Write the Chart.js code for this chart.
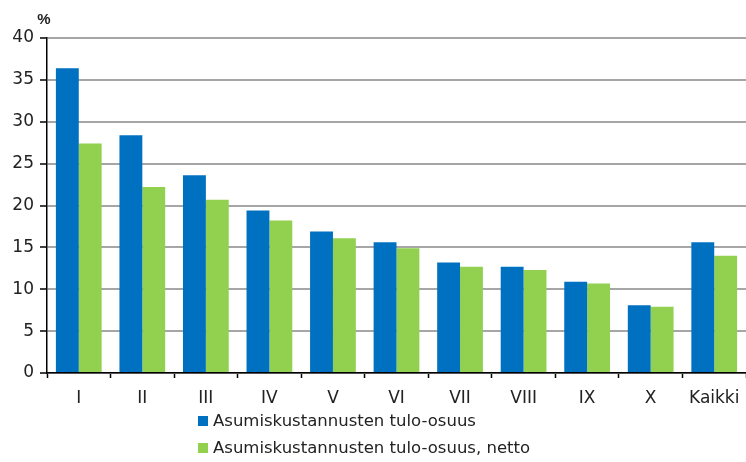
<!DOCTYPE html>
<html>
<head>
<meta charset="utf-8">
<script src="https://cdn.jsdelivr.net/npm/chart.js@4"></script>
<style>
  body { margin: 0; background: #fff; }
  #wrap { position: relative; width: 746px; height: 462px; }
  #legend { position: absolute; left: 198px; top: 407px; font-family: "DejaVu Sans", sans-serif; font-size: 16.5px; color: #222; }
  #legend div { height: 27px; display: flex; align-items: center; }
  #legend span.box { width: 10px; height: 10px; margin-right: 5px; display: inline-block; }
</style>
</head>
<body>
<div id="wrap">
  <canvas id="chartcanvas" width="746" height="462"></canvas>
  <div id="legend"></div>
</div>
<script>
const categories = ["I", "II", "III", "IV", "V", "VI", "VII", "VIII", "IX", "X", "Kaikki"];
const grossShare = [36.4, 28.4, 23.6, 19.4, 16.9, 15.6, 13.2, 12.7, 10.9, 8.1, 15.6];
const netShare = [27.4, 22.2, 20.7, 18.2, 16.1, 14.9, 12.7, 12.3, 10.7, 7.9, 14.0];
const yTicks = [0, 5, 10, 15, 20, 25, 30, 35, 40];

const ctx = document.getElementById("chartcanvas");
const fontFamily = "'DejaVu Sans', sans-serif";

// draws the "%" unit above the y axis
const unitLabel = {
  id: "unitLabel",
  afterDraw(chart) {
    const c = chart.ctx;
    c.save();
    c.font = "bold 15px 'Liberation Sans', Arial, sans-serif";
    c.fillStyle = "#222";
    c.textAlign = "center";
    c.textBaseline = "middle";
    c.fillText("%", chart.chartArea.left - 3, 20);
    c.restore();
  },
};

const config = {
  type: "bar",
  data: {
    labels: categories,
    datasets: [
      {
        label: "Asumiskustannusten tulo-osuus",
        backgroundColor: "#0070C0",
        data: grossShare,
      },
      {
        label: "Asumiskustannusten tulo-osuus, netto",
        backgroundColor: "#92D050",
        data: netShare,
      },
    ],
  },
  options: {
    responsive: false,
    animation: false,
    layout: { padding: { top: 38, right: 0, left: 0, bottom: 0 } },
    datasets: {
      bar: { categoryPercentage: 0.72, barPercentage: 1.0 },
    },
    plugins: {
      legend: { display: false },
      tooltip: { enabled: false },
    },
    scales: {
      x: {
        grid: {
          drawOnChartArea: false,
          drawTicks: true,
          tickLength: 5,
          tickColor: "#000",
          tickWidth: 1.5,
        },
        border: { color: "#000", width: 1.5 },
        ticks: {
          color: "#222",
          padding: 10,
          font: { family: fontFamily, size: 17 },
        },
        afterFit(scale) {
          scale.height = 89;
          scale.paddingLeft = 0;
          scale.paddingRight = 0;
        },
      },
      y: {
        min: 0,
        max: 40,
        afterBuildTicks(scale) { scale.ticks = yTicks.map((v) => ({ value: v })); },
        grid: {
          color: "#a6a6a6",
          lineWidth: 2,
          tickLength: 7,
          tickColor: "#000",
          tickWidth: 1.5,
        },
        border: { color: "#000", width: 1.5 },
        ticks: {
          color: "#222",
          padding: 6,
          font: { family: fontFamily, size: 17 },
        },
        afterFit(scale) { scale.width = 47; },
      },
    },
  },
  plugins: [unitLabel],
};

const chart = new Chart(ctx, config);

// legend stacked in two rows, like the original
const legend = document.getElementById("legend");
chart.data.datasets.forEach((ds) => {
  const row = document.createElement("div");
  const box = document.createElement("span");
  box.className = "box";
  box.style.background = ds.backgroundColor;
  row.appendChild(box);
  row.appendChild(document.createTextNode(ds.label));
  legend.appendChild(row);
});
</script>
</body>
</html>
